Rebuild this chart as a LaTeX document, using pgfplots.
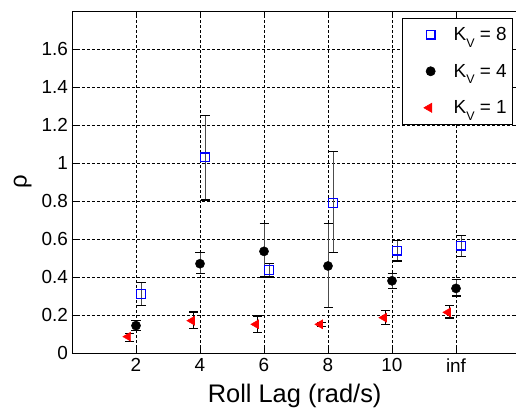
\documentclass[border=0pt]{standalone}
\usepackage{pgfplots}
\pgfplotsset{compat=1.18}
\usepackage{fontspec}
\setmainfont{Liberation Sans}
\newcommand{\Kv}{K\raisebox{-6.5bp}{\fontsize{12.5}{12.5}\selectfont V}}
\begin{document}
\begin{tikzpicture}
\begin{axis}[
  scale only axis,
  width=448bp, height=342bp,
  xmin=0, xmax=14, ymin=0, ymax=1.8,
  xtick={2,4,6,8,10,12},
  xticklabels={2,4,6,8,10,inf},
  ytick={0,0.2,0.4,0.6,0.8,1,1.2,1.4,1.6},
  yticklabel style={/pgf/number format/fixed,/pgf/number format/precision=1},
  /pgf/number format/assume math mode=true,
  tick label style={font=\fontsize{19}{22}\selectfont},
  xticklabel style={yshift=-2bp},
  yticklabel style={xshift=-0.5bp},
  tick align=inside,
  major tick length=5bp,
  axis line style={black, line width=0.9bp},
  tick style={black, line width=0.6bp},
  grid=major,
  major grid style={black, line width=0.6bp, dash pattern=on 3bp off 2bp},
  xlabel={Roll Lag (rad/s)},
  ylabel={ρ},
  xlabel style={font=\fontsize{25.5}{30}\selectfont, at={(axis description cs:0.497,0)}, anchor=center, yshift=-43bp},
  every axis y label/.style={font=\fontsize{24}{28}\selectfont, at={(axis description cs:-0.11,0.5)}, anchor=center, rotate=90},
  legend style={at={(axis description cs:1,1)}, anchor=north east,
    xshift=-7bp, yshift=-7bp, draw=black, line width=0.6bp,
    font=\fontsize{19}{22}\selectfont, row sep=22bp,
    inner xsep=3bp, inner ysep=9bp, legend cell align=left,
    nodes={inner xsep=3bp, inner ysep=0bp}},
  legend image code/.code={\path[draw=none,fill=none] (0bp,-4bp) rectangle (45bp,4bp);
     \draw plot coordinates {(25bp,0bp)};},
]
\addplot[only marks, mark=square, mark size=4.3bp, blue, line width=1.2bp,
  error bars/.cd, y dir=both, y explicit,
  error bar style={black!70, line width=0.9bp},
  error mark options={black, mark size=4.5bp, line width=1.1bp, rotate=90}]
  coordinates {
  (2.16,0.31) += (0,0.06) -= (0,0.06)
  (4.16,1.03) += (0,0.22) -= (0,0.225)
  (6.16,0.437) += (0,0.033) -= (0,0.037)
  (8.16,0.79) += (0,0.27) -= (0,0.262)
  (10.16,0.538) += (0,0.052) -= (0,0.054)
  (12.16,0.565) += (0,0.055) -= (0,0.055)
  };
\addlegendentry{\Kv{} = 8}
\addplot[only marks, mark=*, mark size=4.6bp, black,
  error bars/.cd, y dir=both, y explicit,
  error bar style={black!70, line width=0.9bp},
  error mark options={black, mark size=4.5bp, line width=1.1bp, rotate=90}]
  coordinates {
  (2,0.144) += (0,0.026) -= (0,0.024)
  (4,0.47) += (0,0.06) -= (0,0.05)
  (6,0.535) += (0,0.145) -= (0,0.135)
  (8,0.458) += (0,0.222) -= (0,0.22)
  (10,0.38) += (0,0.04) -= (0,0.04)
  (12,0.34) += (0,0.046) -= (0,0.04)
  };
\addlegendentry{\Kv{} = 4}
\addplot[only marks, mark=triangle*, mark size=5.3bp, red,
  mark options={xshift=-1.5bp, rotate=90},
  error bars/.cd, y dir=both, y explicit,
  error bar style={black, line width=1.3bp},
  error mark options={black, mark size=4.5bp, line width=1.1bp, rotate=90}]
  coordinates {
  (1.8,0.086) += (0,0.017) -= (0,0.025)
  (3.8,0.17) += (0,0.046) -= (0,0.042)
  (5.8,0.151) += (0,0.044) -= (0,0.044)
  (7.8,0.151) += (0,0.01) -= (0,0.01)
  (9.8,0.186) += (0,0.037) -= (0,0.035)
  (11.8,0.214) += (0,0.036) -= (0,0.03)
  };
\addlegendentry{\Kv{} = 1}
\coordinate (bl) at (rel axis cs:0,0);
\end{axis}
\pgfresetboundingbox
\path[use as bounding box] ([xshift=-72bp,yshift=-57bp]bl) rectangle ([xshift=444bp,yshift=353bp]bl);
\end{tikzpicture}
\end{document}
